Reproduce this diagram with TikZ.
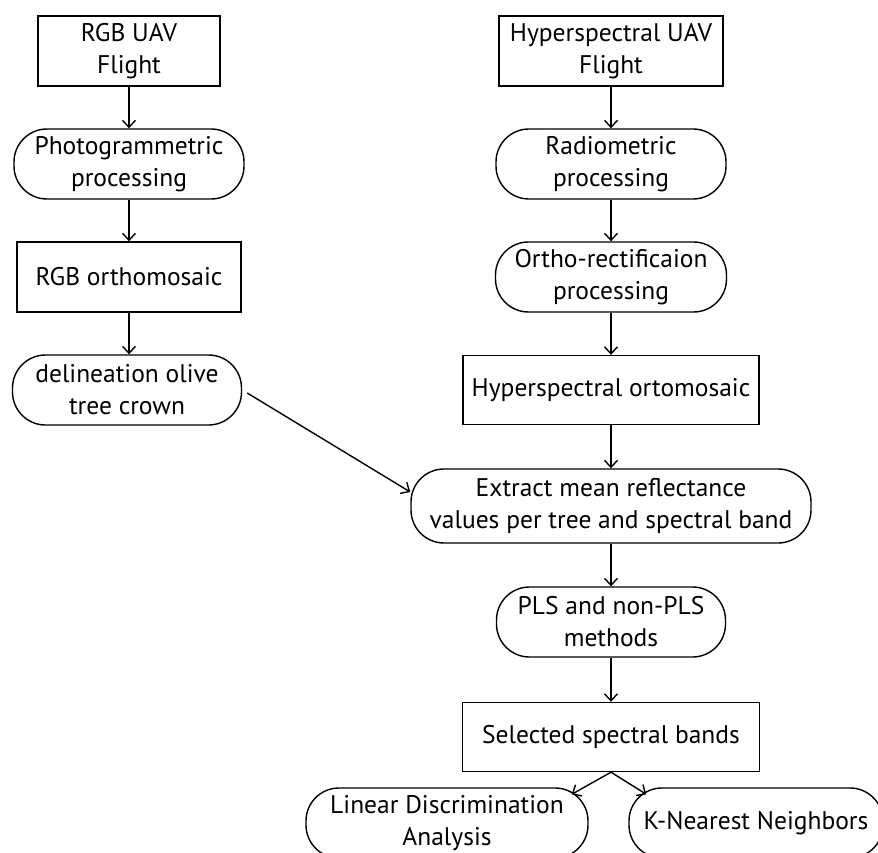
\documentclass[tikz,border=0pt]{standalone}
\usepackage{fontspec}
\setmainfont{PT Sans}
\usetikzlibrary{arrows.meta}
\begin{document}
\begin{tikzpicture}[x=1pt,y=-1pt,
  every node/.style={font=\fontsize{25.5}{32}\selectfont, align=center, inner sep=0pt, line width=1.4pt},
  box/.style={draw, rectangle, minimum height=70pt},
  pill/.style={draw, rectangle, rounded corners=33pt, minimum height=70pt},
  arr/.style={-{Straight Barb[length=7pt,width=13pt]}, line width=1.4pt}
]
\path[fill=white, use as bounding box] (0,0) rectangle (878,853);
\clip (0,0) rectangle (878,853);
% left column
\node[box, minimum width=182pt] (rgb) at (129,51) {RGB UAV\\Flight};
\node[pill, minimum width=230pt] (photo) at (129,164) {Photogrammetric\\processing};
\node[box, minimum width=224pt] (rgbo) at (129,277) {RGB orthomosaic};
\node[pill, minimum width=229pt] (delin) at (127,390) {delineation olive\\tree crown};
% right column
\node[box, minimum width=224pt] (hyp) at (611,51) {Hyperspectral UAV\\Flight};
\node[pill, minimum width=230pt] (radio) at (611,164) {Radiometric\\processing};
\node[pill, minimum width=231pt] (ortho) at (611,277) {Ortho-rectificaion\\processing};
\node[box, minimum width=296pt, minimum height=69pt] (hypo) at (611,390) {Hyperspectral ortomosaic};
\node[pill, minimum width=400pt, minimum height=74pt] (extr) at (611,506) {Extract mean reflectance\\values per tree and spectral band};
\node[pill, minimum width=229pt] (pls) at (611,622) {PLS and non-PLS\\methods};
\node[box, minimum width=297pt, minimum height=69pt] (sel) at (611,737) {Selected spectral bands};
\node[pill, minimum width=282pt] (lda) at (447,823) {Linear Discrimination\\Analysis};
\node[pill, minimum width=254pt] (knn) at (756,823) {K-Nearest Neighbors};
% connectors
\draw[arr] (rgb) -- (photo);
\draw[arr] (photo) -- (rgbo);
\draw[arr] (rgbo) -- (rgbo |- delin.north);
\draw[arr] (hyp) -- (radio);
\draw[arr] (radio) -- (ortho);
\draw[arr] (ortho) -- (hypo);
\draw[arr] (hypo) -- (extr);
\draw[arr] (extr) -- (pls);
\draw[arr] (pls) -- (sel);
\draw[arr] ([xshift=5pt,yshift=-3pt]delin.east) -- ([yshift=14pt]extr.west);
\draw[arr] (sel.south) -- ([xshift=-17pt,yshift=-7pt]lda.north east);
\draw[arr] (sel.south) -- ([xshift=18pt,yshift=-7pt]knn.north west);
\end{tikzpicture}
\end{document}
